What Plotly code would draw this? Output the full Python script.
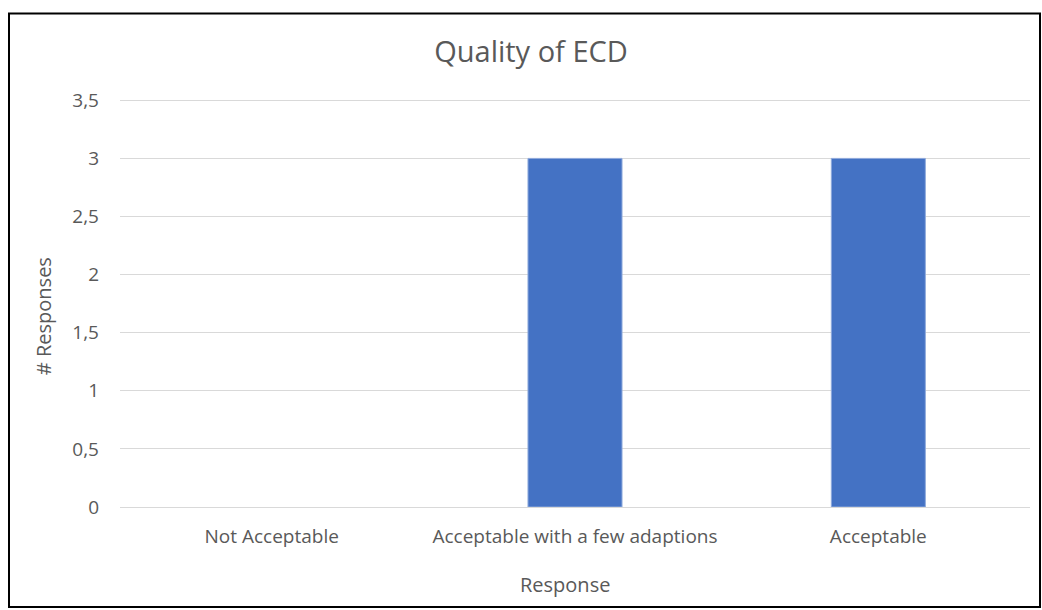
import plotly.graph_objects as go

# Survey results: rating of ECD quality
categories = ["Not Acceptable", "Acceptable with a few adaptions", "Acceptable"]
responses = [0, 3, 3]
y_ticks = [0, 0.5, 1, 1.5, 2, 2.5, 3, 3.5]
y_tick_labels = ["0", "0,5", "1", "1,5", "2", "2,5", "3", "3,5"]
y_max = 3.52

W, H = 1042, 610
ML, MR, MB = 120, 12, 103
unit = (H - MB - 100) / 3.5          # pixels per response
MT = H - MB - y_max * unit
FONT = "Open Sans"
GREY = "#595959"

fig = go.Figure(
    go.Bar(
        x=categories,
        y=responses,
        marker=dict(
            color="#4472C4",
            line=dict(color="#8FAADC", width=[1 if v > 0 else 0 for v in responses]),
        ),
        width=0.31,
    )
)

# helpers to place items by pixel position in paper coordinates
pw, ph = W - ML - MR, H - MT - MB
def px_x(x):
    return (x - ML) / pw
def px_y(y):
    return (H - MB - y) / ph

# outer frame around the whole chart area
fig.add_shape(
    type="rect", xref="paper", yref="paper",
    x0=px_x(9), x1=px_x(1040), y0=px_y(607), y1=px_y(13),
    line=dict(color="black", width=2), fillcolor="rgba(0,0,0,0)", layer="below",
)

# axis titles
fig.add_annotation(
    text="# Responses", textangle=-90, xref="paper", yref="paper",
    x=px_x(43), y=px_y(316), xanchor="center", yanchor="middle",
    showarrow=False, font=dict(family=FONT, size=20, color=GREY),
)
fig.add_annotation(
    text="Response", xref="paper", yref="paper",
    x=px_x(565), y=px_y(585), xanchor="center", yanchor="middle",
    showarrow=False, font=dict(family=FONT, size=20, color=GREY),
)

fig.update_layout(
    width=W, height=H,
    margin=dict(l=ML, r=MR, t=MT, b=MB),
    paper_bgcolor="white", plot_bgcolor="white",
    showlegend=False,
    font=dict(family=FONT, color=GREY, size=19),
    title=dict(
        text="Quality of ECD", x=531 / W, xanchor="center", xref="container",
        y=1 - 52 / H, yanchor="middle",
        font=dict(family=FONT, size=29, color=GREY),
    ),
    xaxis=dict(
        showgrid=False, showline=True, linecolor="#D9D9D9", linewidth=1,
        ticks="", ticklabelstandoff=12,
        tickfont=dict(family=FONT, size=19, color=GREY),
    ),
    yaxis=dict(
        range=[0, y_max], tickvals=y_ticks, ticktext=y_tick_labels,
        showgrid=True, gridcolor="#D9D9D9", gridwidth=1,
        zeroline=False, showline=False, ticks="",
        ticklabelstandoff=20,
        tickfont=dict(family=FONT, size=19, color=GREY),
    ),
)

fig.write_html("out.html")
